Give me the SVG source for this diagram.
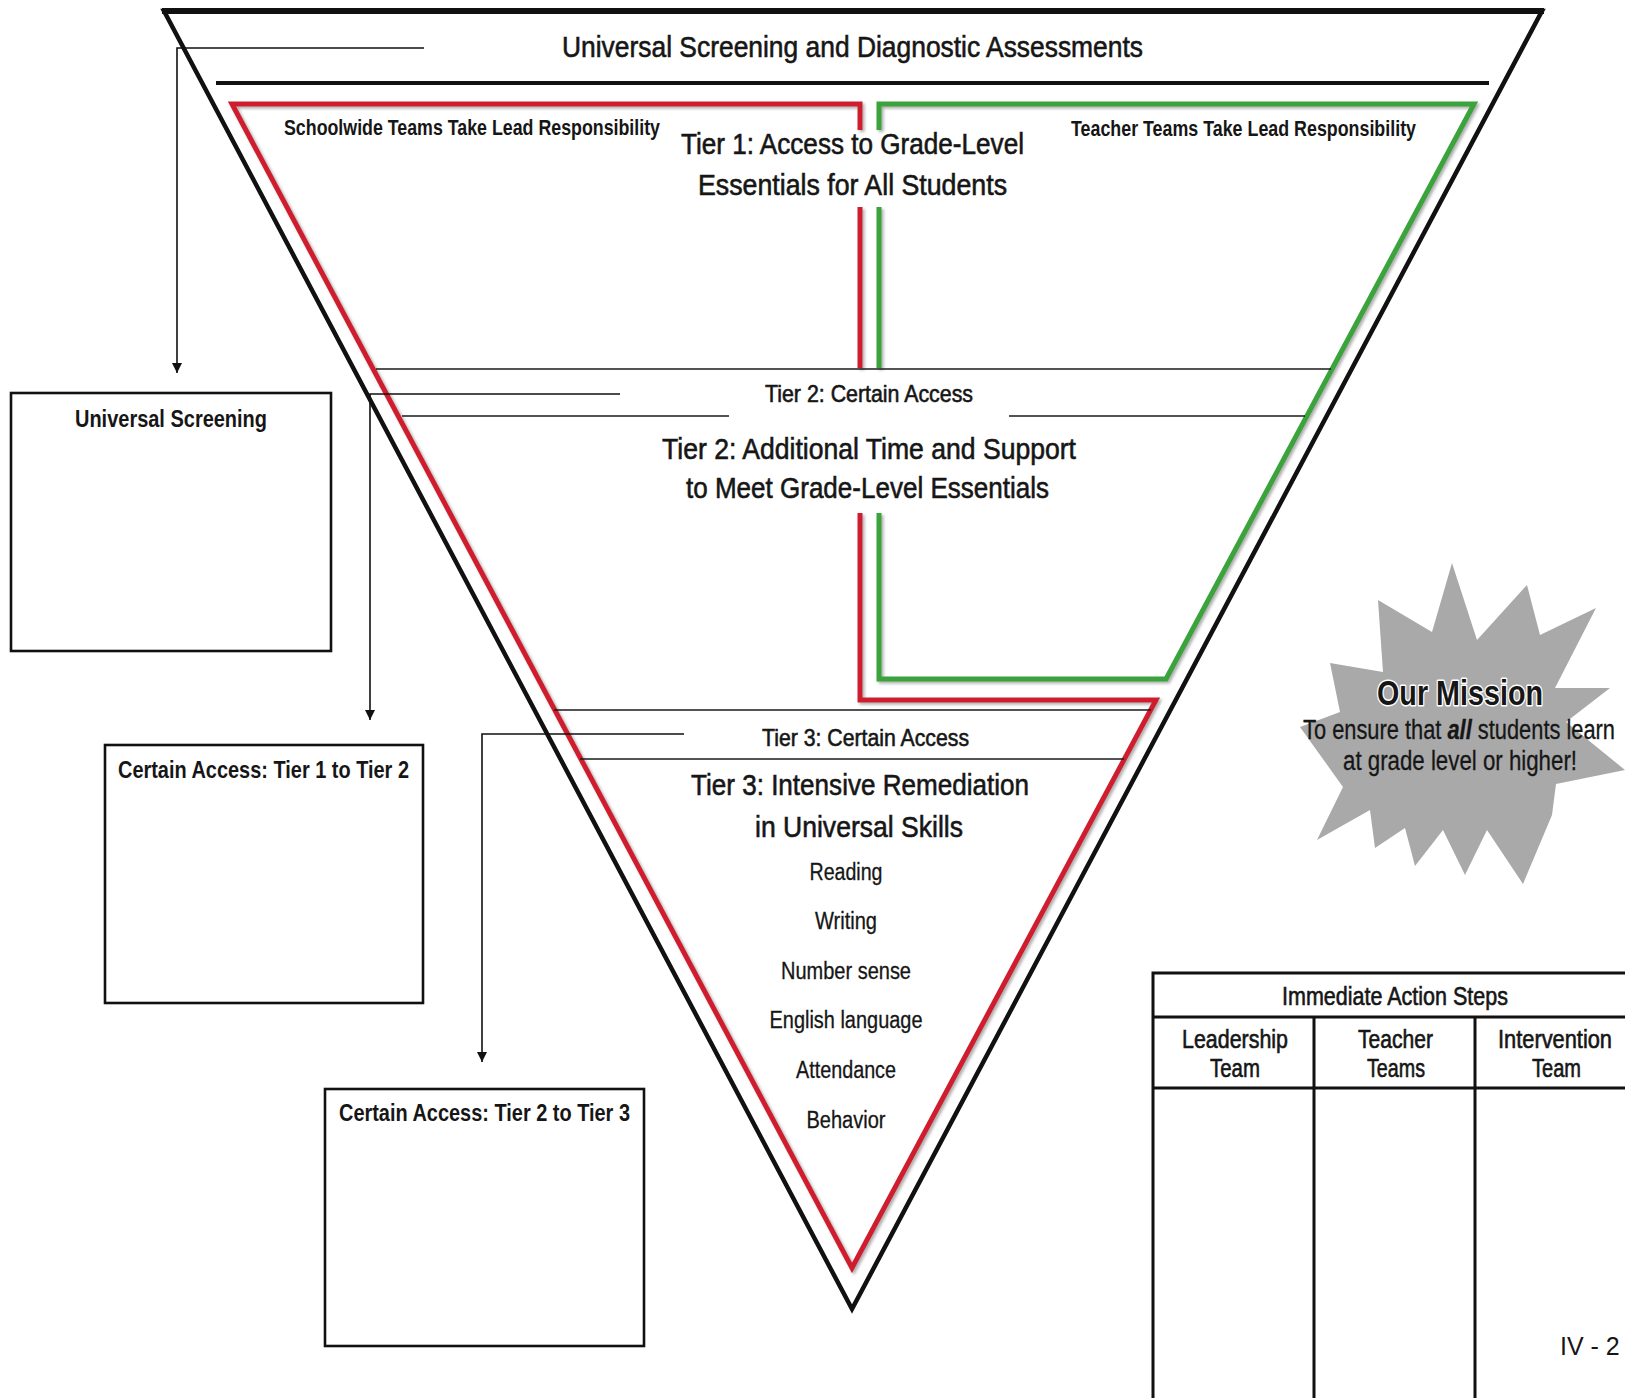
<svg xmlns="http://www.w3.org/2000/svg" width="1625" height="1398" viewBox="0 0 1625 1398">
<defs>
<style>
text{font-family:"Liberation Sans Narrow","Arial Narrow","Liberation Sans",Arial,sans-serif;fill:#161616;}
.b{font-weight:bold;}
.m{stroke:#161616;stroke-width:0.6;}
.s{stroke:#161616;stroke-width:0.3;}
.thin{fill:none;stroke:#1a1a1a;stroke-width:1.6;}
.box{fill:#fff;stroke:#111;stroke-width:2.6;}
.tbl{fill:none;stroke:#111;stroke-width:3;}
.red{fill:none;stroke:#cf1f2f;stroke-width:5;stroke-linejoin:miter;}
.grn{fill:none;stroke:#3aa33a;stroke-width:5;stroke-linejoin:miter;}
.conn{fill:none;stroke:#111;stroke-width:1.6;}
</style>
<filter id="sh" x="-5%" y="-5%" width="110%" height="110%">
<feDropShadow dx="2" dy="2" stdDeviation="1.6" flood-color="#777" flood-opacity="0.6"/>
</filter>
<marker id="arr" markerUnits="userSpaceOnUse" markerWidth="10" markerHeight="12" refX="10" refY="5" orient="auto">
<path d="M0,0 L10,5 L0,10 z" fill="#111"/>
</marker>
</defs>
<rect width="1625" height="1398" fill="#fff"/>

<g id="pyramid">
<polygon points="164,11 1542,11 852,1309" fill="none" stroke="#111" stroke-width="4.5"/>
<line x1="162" y1="11" x2="1544" y2="11" stroke="#111" stroke-width="6"/>
<line x1="216" y1="83" x2="1489" y2="83" stroke="#111" stroke-width="3.8"/>
<text x="562" y="57" font-size="30" class="m" textLength="581" lengthAdjust="spacingAndGlyphs">Universal Screening and Diagnostic Assessments</text>
</g>

<g id="schoolwide-teams" filter="url(#sh)">
<path class="red" d="M860,130 V104 H232 L852,1268 L1156,700 H860 V513"/>
<path class="red" d="M860,207 V368"/>
</g>
<g id="teacher-teams" filter="url(#sh)">
<path class="grn" d="M879,130 V104 H1474 L1166,679 H879 V513"/>
<path class="grn" d="M879,207 V368"/>
</g>

<g id="tier1">
<text x="284" y="135" font-size="22" class="b" textLength="376" lengthAdjust="spacingAndGlyphs">Schoolwide Teams Take Lead Responsibility</text>
<text x="1071" y="136" font-size="22" class="b" textLength="345" lengthAdjust="spacingAndGlyphs">Teacher Teams Take Lead Responsibility</text>
<text x="681" y="154" font-size="29" class="m" textLength="343" lengthAdjust="spacingAndGlyphs">Tier 1: Access to Grade-Level</text>
<text x="698" y="195" font-size="29" class="m" textLength="309" lengthAdjust="spacingAndGlyphs">Essentials for All Students</text>
</g>

<g id="tier2">
<line class="thin" x1="376" y1="369" x2="1331" y2="369"/>
<line class="thin" x1="402" y1="416" x2="729" y2="416"/>
<line class="thin" x1="1009" y1="416" x2="1305" y2="416"/>
<text x="765" y="402" font-size="24" class="m" textLength="208" lengthAdjust="spacingAndGlyphs">Tier 2: Certain Access</text>
<text x="662" y="459" font-size="30" class="m" textLength="414" lengthAdjust="spacingAndGlyphs">Tier 2: Additional Time and Support</text>
<text x="686" y="498" font-size="30" class="m" textLength="363" lengthAdjust="spacingAndGlyphs">to Meet Grade-Level Essentials</text>
</g>

<g id="tier3">
<line class="thin" x1="554" y1="710" x2="1151" y2="710"/>
<line class="thin" x1="580" y1="759" x2="1124" y2="759"/>
<text x="762" y="746" font-size="24" class="m" textLength="207" lengthAdjust="spacingAndGlyphs">Tier 3: Certain Access</text>
<text x="691" y="795" font-size="30" class="m" textLength="338" lengthAdjust="spacingAndGlyphs">Tier 3: Intensive Remediation</text>
<text x="755" y="837" font-size="30" class="m" textLength="208" lengthAdjust="spacingAndGlyphs">in Universal Skills</text>
<g font-size="23" text-anchor="middle" class="s">
<text x="846" y="880" textLength="73" lengthAdjust="spacingAndGlyphs">Reading</text>
<text x="846" y="929" textLength="62" lengthAdjust="spacingAndGlyphs">Writing</text>
<text x="846" y="979" textLength="130" lengthAdjust="spacingAndGlyphs">Number sense</text>
<text x="846" y="1028" textLength="153" lengthAdjust="spacingAndGlyphs">English language</text>
<text x="846" y="1078" textLength="100" lengthAdjust="spacingAndGlyphs">Attendance</text>
<text x="846" y="1128" textLength="79" lengthAdjust="spacingAndGlyphs">Behavior</text>
</g>
</g>

<g id="connectors">
<path class="conn" d="M424,48 H177 V373" marker-end="url(#arr)"/>
<path class="conn" d="M620,394 H370 V720" marker-end="url(#arr)"/>
<path class="conn" d="M684,734 H482 V1062" marker-end="url(#arr)"/>
</g>

<g id="universal-screening">
<rect class="box" x="11" y="393" width="320" height="258"/>
<text x="75" y="427" font-size="24" class="b" textLength="192" lengthAdjust="spacingAndGlyphs">Universal Screening</text>
</g>
<g id="certain-access-1-2">
<rect class="box" x="105" y="745" width="318" height="258"/>
<text x="118" y="778" font-size="24" class="b" textLength="291" lengthAdjust="spacingAndGlyphs">Certain Access: Tier 1 to Tier 2</text>
</g>
<g id="certain-access-2-3">
<rect class="box" x="325" y="1089" width="319" height="257"/>
<text x="339" y="1121" font-size="24" class="b" textLength="291" lengthAdjust="spacingAndGlyphs">Certain Access: Tier 2 to Tier 3</text>
</g>

<g id="mission">
<polygon fill="#a9a9a9" points="1452,563 1477,640 1527,585 1540,635 1596,608 1555,688 1610,688 1566,722 1625,770 1556,784 1552,815 1523,884 1487,830 1465,875 1443,830 1415,866 1405,828 1375,848 1370,810 1317,840 1343,787 1300,727 1340,712 1330,663 1383,672 1378,600 1432,632"/>
<text x="1377" y="705" font-size="35" class="b" textLength="166" lengthAdjust="spacingAndGlyphs" stroke="#fff" stroke-width="3" paint-order="stroke" stroke-linejoin="round">Our Mission</text>
<text x="1303" y="739" font-size="27" class="s" textLength="312" lengthAdjust="spacingAndGlyphs">To ensure that <tspan font-weight="bold" font-style="italic">all</tspan> students learn</text>
<text x="1343" y="770" font-size="27" class="s" textLength="234" lengthAdjust="spacingAndGlyphs">at grade level or higher!</text>
</g>

<g id="action-steps">
<path class="tbl" d="M1153,1398 V973 H1625 M1153,1017 H1625 M1153,1088 H1625 M1314,1017 V1398 M1475,1017 V1398"/>
<g font-size="25" class="m">
<text x="1282" y="1005" textLength="226" lengthAdjust="spacingAndGlyphs">Immediate Action Steps</text>
<text x="1182" y="1048" textLength="106" lengthAdjust="spacingAndGlyphs">Leadership</text>
<text x="1210" y="1077" textLength="50" lengthAdjust="spacingAndGlyphs">Team</text>
<text x="1358" y="1048" textLength="75" lengthAdjust="spacingAndGlyphs">Teacher</text>
<text x="1367" y="1077" textLength="58" lengthAdjust="spacingAndGlyphs">Teams</text>
<text x="1498" y="1048" textLength="114" lengthAdjust="spacingAndGlyphs">Intervention</text>
<text x="1532" y="1077" textLength="49" lengthAdjust="spacingAndGlyphs">Team</text>
</g>
</g>

<g id="page-number">
<text x="1560" y="1355" font-size="25" style="font-family:'Liberation Sans',Arial,sans-serif">IV - 2</text>
</g>
</svg>
